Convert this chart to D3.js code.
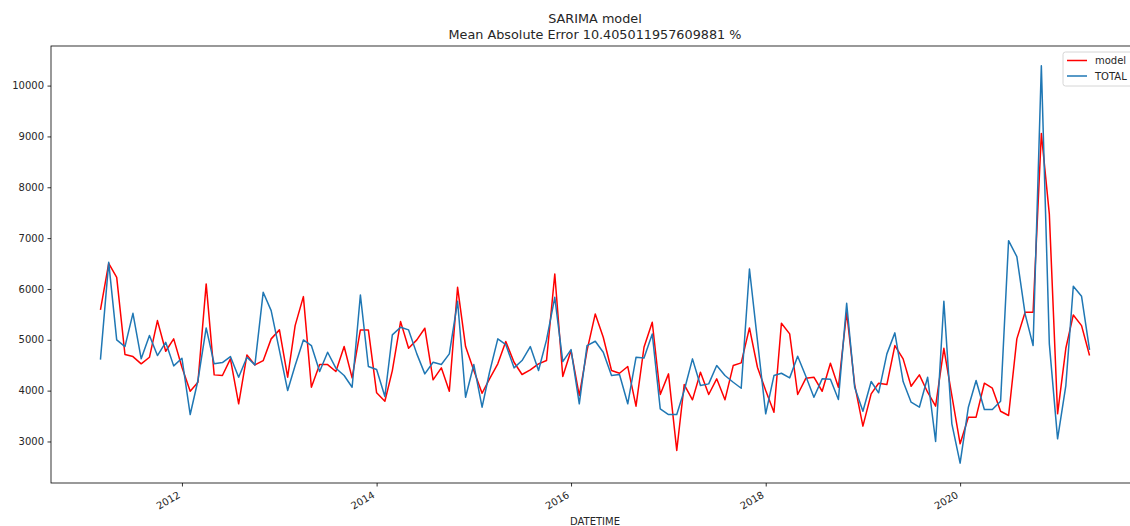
<!DOCTYPE html>
<html lang="en">
<head>
<meta charset="UTF-8">
<title>SARIMA model</title>
<script src="https://d3js.org/d3.v7.min.js"></script>
<style>
    body { margin: 0; background: #fff; }
    svg text { font-family: "DejaVu Sans", sans-serif; fill: #262626; }
</style>
</head>
<body>
<div id="graph"></div>
<script>
// monthly observations, March 2011 .. May 2021
const firstMonth = "2011-03-01";
const lastMonth = "2021-05-01";

const totalValues = [
    4611, 6523, 4998, 4867, 5521, 4625, 5083, 4690, 4951, 4487,
    4637, 3530, 4199, 5234, 4527, 4552, 4670, 4264, 4656, 4506,
    5934, 5574, 4790, 4002, 4493, 4998, 4886, 4376, 4755, 4441,
    4297, 4067, 5882, 4474, 4415, 3884, 5096, 5247, 5195, 4723,
    4330, 4558, 4513, 4723, 5757, 3870, 4513, 3674, 4362, 5018,
    4906, 4448, 4592, 4867, 4395, 4998, 5836, 4572, 4808, 3741,
    4886, 4971, 4755, 4297, 4317, 3741, 4656, 4643, 5116, 3640,
    3530, 3530, 4002, 4625, 4100, 4133, 4493, 4297, 4165, 4047,
    6393, 4985, 3544, 4297, 4342, 4251, 4676, 4277, 3870, 4232,
    4225, 3825, 5718, 4067, 3595, 4179, 3957, 4723, 5136, 4179,
    3772, 3674, 4264, 3000, 5757, 3347, 2574, 3674, 4199, 3629,
    3629, 3792, 6950, 6635, 5509, 4886, 10388, 4919, 3052, 4100,
    6052, 5855, 4801
];

const modelValues = [
    5588, 6504, 6229, 4710, 4670, 4527, 4656, 5378, 4775, 5018,
    4460, 3988, 4165, 6099, 4310, 4297, 4625, 3741, 4703, 4506,
    4590, 5018, 5195, 4264, 5279, 5849, 4067, 4513, 4513, 4376,
    4867, 4251, 5195, 5195, 3957, 3792, 4395, 5358, 4833, 4998,
    5228, 4212, 4448, 3988, 6032, 4867, 4395, 3949, 4232, 4527,
    4965, 4558, 4317, 4409, 4527, 4592, 6295, 4277, 4788, 3904,
    4788, 5509, 5050, 4395, 4342, 4474, 3694, 4853, 5345, 3924,
    4330, 2823, 4120, 3819, 4362, 3924, 4232, 3819, 4493, 4546,
    5234, 4460, 4002, 3576, 5325, 5116, 3924, 4245, 4264, 3988,
    4539, 4067, 5541, 4120, 3301, 3937, 4146, 4120, 4886, 4625,
    4087, 4310, 3969, 3694, 4833, 3904, 2954, 3478, 3478, 4146,
    4048, 3595, 3511, 5018, 5541, 5541, 9059, 7472, 3544, 4833,
    5489, 5279, 4690
];

const yTicks = [3000, 4000, 5000, 6000, 7000, 8000, 9000, 10000];
const xTickYears = [2012, 2014, 2016, 2018, 2020];
const legendLabels = ["model", "TOTAL"];

const width = 1130, height = 526;
const mLeft = 51, mRight = 1139, mTop = 46, mBottom = 483;

const dates = d3.utcMonth.range(new Date(firstMonth), d3.utcMonth.offset(new Date(lastMonth), 1));

var svg = d3.select("#graph")
    .append("svg")
    .attr("width", width)
    .attr("height", height);

// matplotlib style 5% margins
var t0 = dates[0].getTime(), t1 = dates[dates.length - 1].getTime();
var tpad = (t1 - t0) * 0.05;
var xscale = d3.scaleUtc()
    .domain([new Date(t0 - tpad), new Date(t1 + tpad)])
    .range([mLeft, mRight]);

var allVals = totalValues.concat(modelValues);
var vmin = d3.min(allVals), vmax = d3.max(allVals);
var vpad = (vmax - vmin) * 0.05;
var yscale = d3.scaleLinear()
    .domain([vmin - vpad, vmax + vpad])
    .range([mBottom, mTop]);

// y axis
var y_axis = d3.axisLeft(yscale)
    .tickValues(yTicks)
    .tickFormat(d3.format("d"))
    .tickSize(3.5)
    .tickPadding(3.5);
var gy = svg.append("g")
    .attr("transform", "translate(" + mLeft + ",0)")
    .call(y_axis);
gy.select(".domain").remove();
gy.selectAll(".tick line").attr("stroke", "#000").attr("stroke-width", 0.8);
gy.selectAll(".tick text")
    .attr("font-size", 10)
    .attr("font-family", "DejaVu Sans")
    .attr("fill", "#262626");

// x axis
var xTickDates = xTickYears.map(y => new Date(Date.UTC(y, 0, 1)));
var x_axis = d3.axisBottom(xscale).tickValues(xTickDates).tickSize(3.5).tickFormat("");
var gx = svg.append("g")
    .attr("transform", "translate(0," + mBottom + ")")
    .call(x_axis);
gx.select(".domain").remove();
gx.selectAll(".tick line").attr("stroke", "#000").attr("stroke-width", 0.8);

svg.append("g").selectAll("text")
    .data(xTickDates)
    .enter().append("text")
    .attr("transform", d => "translate(" + (xscale(d) - 1) + "," + (mBottom + 14) + ") rotate(-30)")
    .attr("text-anchor", "end")
    .attr("font-size", 10)
    .text(d => d3.utcFormat("%Y")(d));

// frame
svg.append("rect")
    .attr("x", mLeft).attr("y", mTop)
    .attr("width", mRight - mLeft).attr("height", mBottom - mTop)
    .attr("fill", "none")
    .attr("stroke", "#000")
    .attr("stroke-width", 0.8);

// lines
var line = d3.line()
    .x((d, i) => xscale(dates[i]))
    .y(d => yscale(d));

svg.append("path")
    .datum(modelValues)
    .attr("fill", "none")
    .attr("stroke", "#ff0000")
    .attr("stroke-width", 1.5)
    .attr("stroke-linejoin", "round")
    .attr("d", line);

svg.append("path")
    .datum(totalValues)
    .attr("fill", "none")
    .attr("stroke", "#1f77b4")
    .attr("stroke-width", 1.5)
    .attr("stroke-linejoin", "round")
    .attr("d", line);

// legend
var lg = svg.append("g").attr("transform", "translate(1063,52)");
lg.append("rect")
    .attr("width", 70).attr("height", 34)
    .attr("rx", 2.5)
    .attr("fill", "#fff").attr("fill-opacity", 0.8)
    .attr("stroke", "#ccc").attr("stroke-width", 0.8);
var legendColors = ["#ff0000", "#1f77b4"];
legendLabels.forEach(function (lab, i) {
    var yy = 8.5 + i * 15.5;
    lg.append("line")
        .attr("x1", 4).attr("x2", 24)
        .attr("y1", yy).attr("y2", yy)
        .attr("stroke", legendColors[i]).attr("stroke-width", 1.5);
    lg.append("text")
        .attr("x", 32).attr("y", yy + 3.6)
        .attr("font-size", 10)
        .text(lab);
});

// titles
var cx = (mLeft + mRight) / 2;
svg.append("text")
    .attr("x", cx).attr("y", 23)
    .attr("text-anchor", "middle")
    .attr("font-size", 12.8)
    .text("SARIMA model");
svg.append("text")
    .attr("x", cx).attr("y", 39)
    .attr("text-anchor", "middle")
    .attr("font-size", 12.8)
    .text("Mean Absolute Error 10.405011957609881 %");

svg.append("text")
    .attr("x", cx).attr("y", 525)
    .attr("text-anchor", "middle")
    .attr("font-size", 10)
    .text("DATETIME");
</script>
</body>
</html>
